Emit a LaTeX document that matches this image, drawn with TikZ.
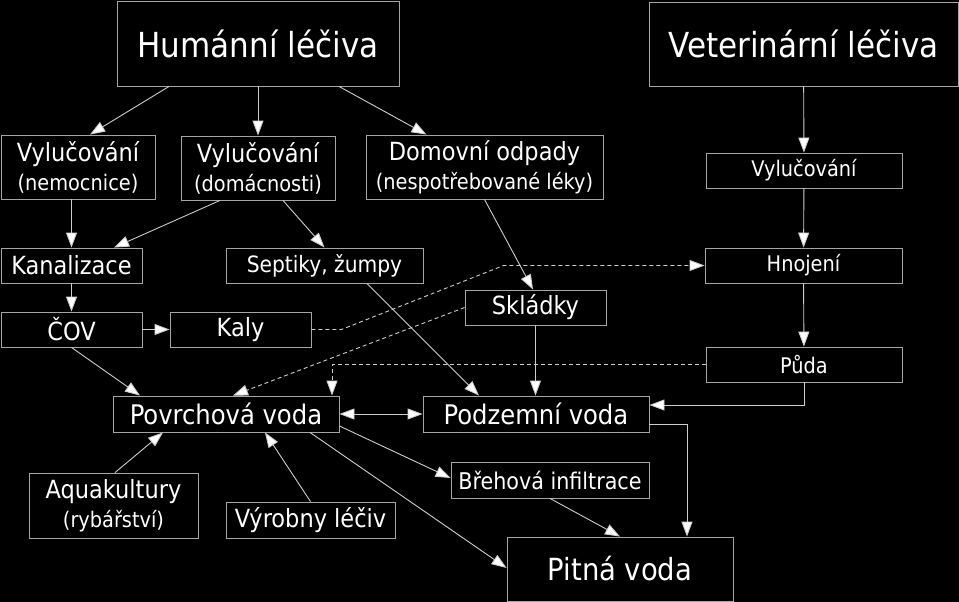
\documentclass[tikz,border=0pt]{standalone}
\usepackage{fontspec}
\setmainfont{DejaVu Sans Condensed}
\usetikzlibrary{arrows.meta,positioning,calc}
\definecolor{boxgray}{RGB}{165,165,165}
\definecolor{linegray}{RGB}{205,205,205}
\newcommand{\subline}{\fontsize{21.5}{27}\selectfont}

\begin{document}
\begin{tikzpicture}[
    x=1pt, y=-1pt,
    >={Triangle[length=15pt,width=11pt,fill=white]},
    arrow/.style={->, draw=linegray, line width=0.9pt},
    dasharrow/.style={arrow, dash pattern=on 4pt off 3pt},
    box/.style 2 args={draw=boxgray, line width=0.9pt, text=white, align=center,
                       inner sep=0pt, minimum width=#1, minimum height=#2},
    big/.style={font=\fontsize{34.5}{40}\selectfont},
    mid/.style={font=\fontsize{25}{29}\selectfont},
    water/.style={font=\fontsize{27}{32}\selectfont},
    small/.style={font=\fontsize{21.5}{26}\selectfont},
]
\useasboundingbox[fill=black] (0,0) rectangle (959,602);

%% ── sources ──────────────────────────────────────────────────
\node[box={282}{85},big]   (hum)    at (258,43.5)   {Humánní léčiva};
\node[box={309}{84},big]   (vet)    at (803.5,44)   {Veterinární léčiva};

%% ── human branch ─────────────────────────────────────────────
\node[box={154}{64},mid]   (vylnem) at (78,167)     {Vylučování\\\subline(nemocnice)};
\node[box={154}{64},mid]   (vyldom) at (258,168)    {Vylučování\\\subline(domácnosti)};
\node[box={237}{64},mid]   (domov)  at (484.5,167)  {Domovní odpady\\\subline(nespotřebované léky)};
\node[box={141}{35},mid]   (kanal)  at (71.5,265.5) {Kanalizace};
\node[box={197}{35},font=\fontsize{22.5}{27}\selectfont] (septik) at (324.5,265.5) {Septiky, žumpy};
\node[box={141}{35},mid]   (sklad)  at (535.5,307.5){Skládky};
\node[box={141}{35},mid]   (cov)    at (71.5,329.5) {ČOV};
\node[box={141}{35},mid]   (kaly)   at (240.5,329.5){Kaly};

%% ── veterinary branch ────────────────────────────────────────
\node[box={196}{35},small] (vetvyl) at (804,170.5)  {Vylučování};
\node[box={197}{35},small] (hnoj)   at (803.5,265.5){Hnojení};
\node[box={196}{35},small] (puda)   at (804,364.5)  {Půda};

%% ── water ────────────────────────────────────────────────────
\node[box={226}{36},water] (povrch) at (226,414)    {Povrchová voda};
\node[box={226}{36},water] (podzem) at (536,414)    {Podzemní voda};
\node[box={198}{36},font=\fontsize{23}{28}\selectfont] (brehov) at (550,480) {Břehová infiltrace};
\node[box={169}{65},mid]   (aqua)   at (113.5,505.5){Aquakultury\\\subline(rybářství)};
\node[box={169}{36},mid]   (vyrob)  at (310.5,520)  {Výrobny léčiv};
\node[box={226}{64},font=\fontsize{30.5}{36}\selectfont] (pitna) at (620,569) {Pitná voda};

%% ── connectors ───────────────────────────────────────────────
\draw[arrow] ([xshift=-89pt]hum.south) -- ([xshift=12pt]vylnem.north);
\draw[arrow] (hum.south) -- (vyldom.north);
\draw[arrow] ([xshift=81pt]hum.south) -- ([xshift=-58pt]domov.north);
\draw[arrow] (kanal.north |- vylnem.south) -- (kanal.north);
\draw[arrow] ([xshift=-38pt]vyldom.south) -- ([xshift=42.5pt]kanal.north);
\draw[arrow] ([xshift=25pt]vyldom.south) -- (septik.north);
\draw[arrow] (domov.south) -- ([xshift=-2.5pt]sklad.north);
\draw[arrow] ([xshift=42.5pt]septik.south) -- ([xshift=-57pt]podzem.north);
\draw[arrow] (sklad.south) -- (sklad.south |- podzem.north);
\draw[arrow] (kanal) -- (cov);
\draw[arrow] (cov) -- (kaly);
\draw[arrow] (cov.south) -- ([xshift=-86pt]povrch.north);

\draw[dasharrow] (kaly.east) -- ++(30,0) -- ([xshift=-201pt]hnoj.west) -- (hnoj.west);
\draw[dasharrow] (sklad.west) -- ([xshift=7pt]povrch.north);
\draw[dasharrow] (puda.west) -| ([xshift=106pt]povrch.north);

\draw[arrow] (vet) -- (vetvyl);
\draw[arrow] (vetvyl) -- (hnoj);
\draw[arrow] (hnoj) -- (puda);
\draw[arrow] (puda.south) |- ([yshift=9pt]podzem.east);

\draw[arrow, <->] (povrch) -- (podzem);
\draw[arrow] ([yshift=-10pt]podzem.east) -| ([xshift=67pt]pitna.north);
\draw[arrow] ([yshift=-12pt]povrch.east) -- ([yshift=2pt]brehov.west);
\draw[arrow] ([xshift=84pt]povrch.south) -- ([yshift=1pt]pitna.west);
\draw[arrow] (brehov.south) -- (pitna.north);
\draw[arrow] ([xshift=1.5pt]aqua.north) -- ([xshift=-63pt]povrch.south);
\draw[arrow] (vyrob.north) -- ([xshift=39pt]povrch.south);

\end{tikzpicture}
\end{document}
